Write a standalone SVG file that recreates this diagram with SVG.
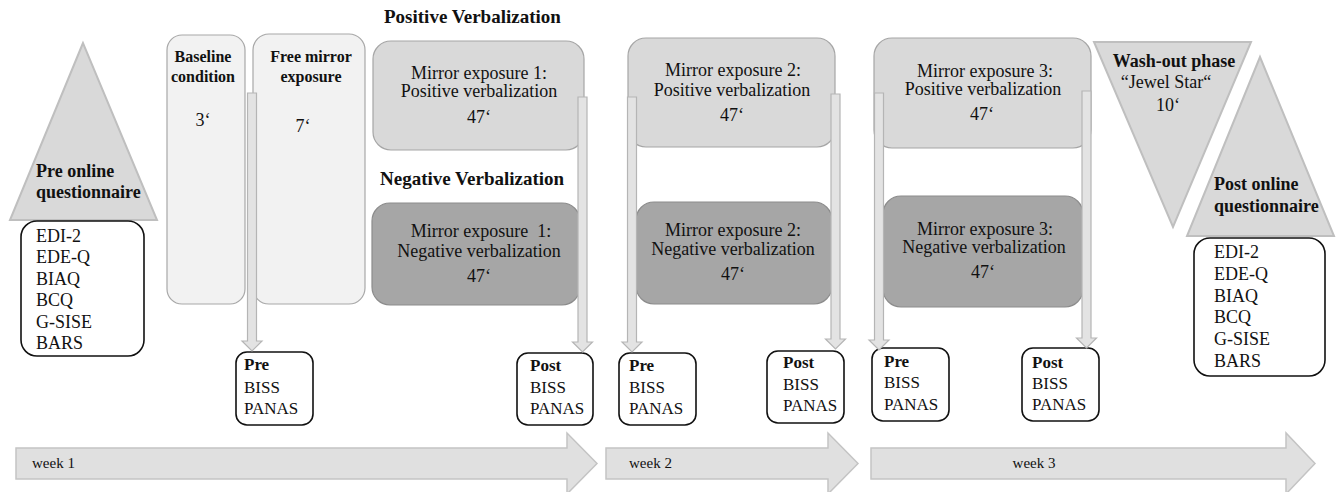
<svg xmlns="http://www.w3.org/2000/svg" width="1336" height="492" viewBox="0 0 1336 492">
<style>
text{font-family:"Liberation Serif","Times New Roman",serif;fill:#111;}
.b{font-weight:bold;}
.c{text-anchor:middle;}
.t18{font-size:18px;}
.t17{font-size:17px;}
.t16{font-size:16px;}
.t19{font-size:19px;}
.t15{font-size:15px;}
.phase{fill:#f2f2f2;stroke:#a8a8a8;stroke-width:1.2;}
.pos{fill:#d9d9d9;stroke:#a6a6a6;stroke-width:1.2;}
.neg{fill:#a6a6a6;stroke:#8c8c8c;stroke-width:1.2;}
.tri{fill:#d9d9d9;stroke:#bfbfbf;stroke-width:2;}
.meas{fill:#fff;stroke:#111;stroke-width:1.6;}
.arr{fill:#e3e3e3;stroke:#b5b5b5;stroke-width:1.2;}
.week{fill:#e0e0e0;stroke:#c4c4c4;stroke-width:1.5;}
</style>

<g id="pre-online">
<polygon class="tri" points="83,43 10,220 157,220"/>
<text class="b t18" x="36" y="177">Pre online</text>
<text class="b t18" x="36" y="198">questionnaire</text>
</g>
<g id="pre-list">
<rect class="meas" x="21" y="221" width="123" height="135" rx="16"/>
<text class="t18" x="36" y="242">EDI-2</text>
<text class="t18" x="36" y="263">EDE-Q</text>
<text class="t18" x="36" y="285">BIAQ</text>
<text class="t18" x="36" y="306">BCQ</text>
<text class="t18" x="36" y="328">G-SISE</text>
<text class="t18" x="36" y="349">BARS</text>
</g>

<g id="baseline">
<rect class="phase" x="167" y="35" width="78" height="269" rx="15"/>
<text class="b t16 c" x="203" y="62">Baseline</text>
<text class="b t16 c" x="203" y="82">condition</text>
<text class="t18 c" x="203" y="126">3‘</text>
</g>
<g id="free-mirror">
<rect class="phase" x="253" y="34" width="112" height="270" rx="16"/>
<text class="b t16 c" x="311" y="62">Free mirror</text>
<text class="b t16 c" x="311" y="82">exposure</text>
<text class="t18 c" x="303" y="132">7‘</text>
</g>

<g id="label-positive">
<text class="b t19" x="384" y="23">Positive Verbalization</text>
</g>
<g id="label-negative">
<text class="b t19" x="380" y="185">Negative Verbalization</text>
</g>

<g id="me1-pos">
<rect class="pos" x="373" y="41" width="211" height="109" rx="18"/>
<text class="t18 c" x="479" y="79">Mirror exposure 1:</text>
<text class="t18 c" x="479" y="97">Positive verbalization</text>
<text class="t18 c" x="479" y="123">47‘</text>
</g>
<g id="me1-neg">
<rect class="neg" x="372" y="203" width="208" height="102" rx="18"/>
<text class="t18 c" x="481" y="237" xml:space="preserve">Mirror exposure  1:</text>
<text class="t18 c" x="479" y="257">Negative verbalization</text>
<text class="t18 c" x="479" y="282">47‘</text>
</g>

<g id="me2-pos">
<rect class="pos" x="628" y="38" width="207" height="109" rx="18"/>
<text class="t18 c" x="733" y="76">Mirror exposure 2:</text>
<text class="t18 c" x="732" y="96">Positive verbalization</text>
<text class="t18 c" x="732" y="121">47‘</text>
</g>
<g id="me2-neg">
<rect class="neg" x="636" y="202" width="196" height="102" rx="18"/>
<text class="t18 c" x="733" y="236">Mirror exposure 2:</text>
<text class="t18 c" x="733" y="255">Negative verbalization</text>
<text class="t18 c" x="733" y="280">47‘</text>
</g>

<g id="me3-pos">
<rect class="pos" x="874" y="38" width="217" height="110" rx="18"/>
<text class="t18 c" x="985" y="77">Mirror exposure 3:</text>
<text class="t18 c" x="983" y="95">Positive verbalization</text>
<text class="t18 c" x="982" y="120">47‘</text>
</g>
<g id="me3-neg">
<rect class="neg" x="883" y="196" width="200" height="111" rx="18"/>
<text class="t18 c" x="985" y="235">Mirror exposure 3:</text>
<text class="t18 c" x="984" y="253">Negative verbalization</text>
<text class="t18 c" x="983" y="278">47‘</text>
</g>

<g id="washout">
<polygon class="tri" points="1094,42 1251,42 1173,227"/>
<text class="b t18 c" x="1174" y="67">Wash-out phase</text>
<text class="t18 c" x="1166" y="88">“Jewel Star“</text>
<text class="t18 c" x="1168" y="111">10‘</text>
</g>

<g id="post-online">
<polygon class="tri" points="1260,57 1187,236 1334,236"/>
<text class="b t18" x="1214" y="190">Post online</text>
<text class="b t18" x="1214" y="212">questionnaire</text>
</g>
<g id="post-list">
<rect class="meas" x="1194" y="238" width="131" height="138" rx="16"/>
<text class="t18" x="1214" y="258">EDI-2</text>
<text class="t18" x="1214" y="280">EDE-Q</text>
<text class="t18" x="1214" y="302">BIAQ</text>
<text class="t18" x="1214" y="323">BCQ</text>
<text class="t18" x="1214" y="345">G-SISE</text>
<text class="t18" x="1214" y="367">BARS</text>
</g>

<g id="pre1">
<rect class="meas" x="236" y="352" width="77" height="73" rx="11"/>
<text class="b t17" x="244" y="370">Pre</text>
<text class="t17" x="244" y="393">BISS</text>
<text class="t17" x="244" y="414">PANAS</text>
</g>
<g id="post1">
<rect class="meas" x="517" y="353" width="76" height="72" rx="11"/>
<text class="b t17" x="530" y="371">Post</text>
<text class="t17" x="530" y="393">BISS</text>
<text class="t17" x="530" y="414">PANAS</text>
</g>
<g id="pre2">
<rect class="meas" x="619" y="353" width="77" height="72" rx="11"/>
<text class="b t17" x="629" y="371">Pre</text>
<text class="t17" x="629" y="393">BISS</text>
<text class="t17" x="629" y="414">PANAS</text>
</g>
<g id="post2">
<rect class="meas" x="767" y="351" width="77" height="72" rx="11"/>
<text class="b t17" x="783" y="368">Post</text>
<text class="t17" x="783" y="390">BISS</text>
<text class="t17" x="783" y="411">PANAS</text>
</g>
<g id="pre3">
<rect class="meas" x="872" y="348" width="77" height="73" rx="11"/>
<text class="b t17" x="884" y="367">Pre</text>
<text class="t17" x="884" y="388">BISS</text>
<text class="t17" x="884" y="410">PANAS</text>
</g>
<g id="post3">
<rect class="meas" x="1022" y="348" width="77" height="73" rx="11"/>
<text class="b t17" x="1032" y="368">Post</text>
<text class="t17" x="1032" y="389">BISS</text>
<text class="t17" x="1032" y="410">PANAS</text>
</g>

<g id="week1">
<polygon class="week" points="16,448 567,448 567,433 597,463.5 567,494 567,479 16,479"/>
<text class="t15" x="32" y="468">week 1</text>
</g>
<g id="week2">
<polygon class="week" points="606,448 828,448 828,433 858,463.5 828,494 828,479 606,479"/>
<text class="t15" x="629" y="468">week 2</text>
</g>
<g id="week3">
<polygon class="week" points="871,448 1286,448 1286,433 1315,463.5 1286,494 1286,479 871,479"/>
<text class="t15 c" x="1034" y="468">week 3</text>
</g>

<g id="connectors">
<polygon class="arr" points="247.5,93 256.5,93 256.5,341 262,341 252,351 242,341 247.5,341"/>
<polygon class="arr" points="578,97 587,97 587,342 592.5,342 582.5,352 572.5,342 578,342"/>
<polygon class="arr" points="627.5,97 636.5,97 636.5,342 642,342 632,352 622,342 627.5,342"/>
<polygon class="arr" points="831,94 840,94 840,339 845.5,339 835.5,349 825.5,339 831,339"/>
<polygon class="arr" points="874.5,93 883.5,93 883.5,340 889,340 879,350 869,340 874.5,340"/>
<polygon class="arr" points="1082,91 1091,91 1091,338 1096.5,338 1086.5,348 1076.5,338 1082,338"/>
</g>
</svg>
